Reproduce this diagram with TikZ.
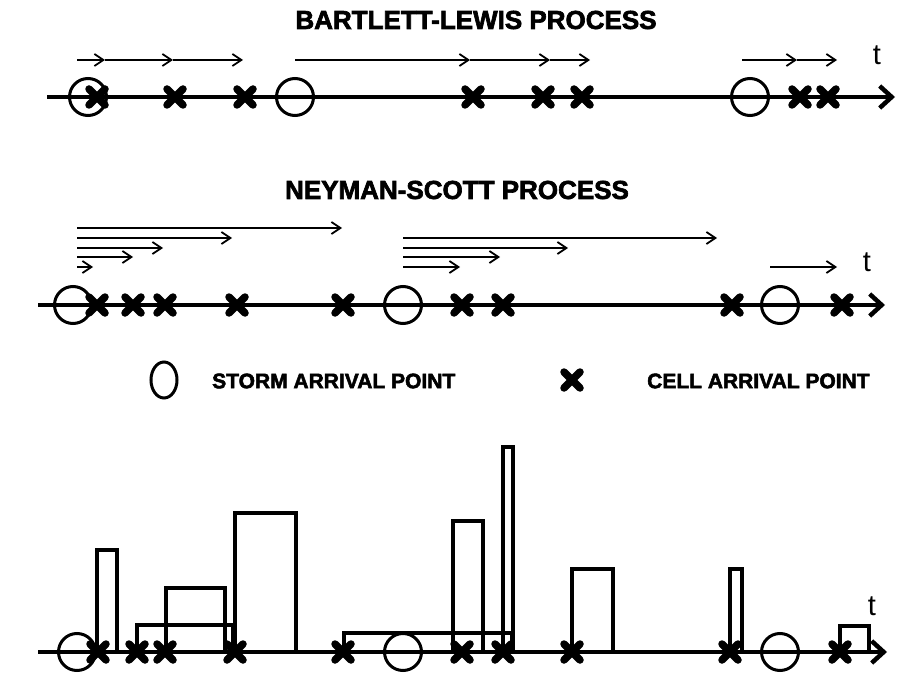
\documentclass[tikz,border=0pt]{standalone}
\usepackage{fontspec}
\setmainfont{Liberation Sans}
\newfontfamily\heavyfont{Liberation Sans}[BoldFeatures={FakeBold=2.5}]
\usetikzlibrary{arrows.meta,shapes.geometric}

\begin{document}
\begin{tikzpicture}[
    x=1pt, y=-1pt,
    title/.style={font=\heavyfont\fontsize{26}{26}\selectfont\bfseries, inner sep=0pt},
    legend/.style={font=\heavyfont\fontsize{21}{21}\selectfont\bfseries, anchor=west, inner sep=0pt},
    tlabel/.style={font=\fontsize{29}{29}\selectfont, inner sep=0pt},
    storm/.style={circle, draw, line width=3pt, minimum size=37pt, inner sep=0pt},
    axis/.style={line width=4.5pt, -{Straight Barb[length=12pt,width=22pt]}},
    arrow/.style={line width=1.8pt, -{Straight Barb[length=9pt,width=12pt]}},
    cellbox/.style={line width=3.3pt},
    cell/.pic={\draw[line width=7.5pt, line cap=round] (-8,-8) -- (8,8) (-8,8) -- (8,-8);}
  ]
  \useasboundingbox[fill=white] (0,0) rectangle (897,695);

  % Bartlett-Lewis
  \node[title] (bltitle) at (476,20) {BARTLETT-LEWIS PROCESS};
  \coordinate (blstart) at (47,97);
  \coordinate (blend) at (895,97);
  \draw[axis] (blstart) -- (blend);
  \node[tlabel] (blt) at (877,55) {t};
  \foreach \a/\b in {77/105,105/173,173/243,295/470,470/550,550/590,742/797,797/837}
    \draw[arrow] (\a,60) -- (\b,60);
  \foreach \x [count=\i] in {88,295,750}
    \node[storm] (bls\i) at (\x,97) {};
  \foreach \x in {97,175,245,473,543,582,800,828}
    \pic at (\x,97) {cell};

  % Neyman-Scott
  \node[title] (nstitle) at (457,190) {NEYMAN-SCOTT PROCESS};
  \coordinate (nsstart) at (38,305);
  \coordinate (nsend) at (885,305);
  \draw[axis] (nsstart) -- (nsend);
  \node[tlabel] (nst) at (867,262) {t};
  \foreach \y/\a/\b in {228/77/342,238/77/232,248/77/163,257/77/133,267/77/93,
                        238/403/717,248/403/568,257/403/500,267/403/460,267/770/837}
    \draw[arrow] (\a,\y) -- (\b,\y);
  \foreach \x [count=\i] in {73,403,780}
    \node[storm] (nss\i) at (\x,305) {};
  \foreach \x in {97,133,165,237,343,462,503,732,842}
    \pic at (\x,305) {cell};

  % legend
  \node[storm, ellipse, minimum width=26pt, minimum height=36pt] (keystorm) at (164,380) {};
  \node[legend] (keystormtext) at (212,381) {STORM ARRIVAL POINT};
  \pic at (572,380) {cell};
  \node[legend] (keycelltext) at (647,381) {CELL ARRIVAL POINT};

  % rainfall pulses
  \foreach \a/\b/\h in {97/117/550,137/233/625,166/225/588,235/296/513,344/512/633,
                        453/483/521,503/513/447,572/613/569,730/742/569,840/869/626}
    \draw[cellbox] (\a,652) rectangle (\b,\h);
  \coordinate (rfstart) at (38,652);
  \coordinate (rfend) at (887,652);
  \draw[axis] (rfstart) -- (rfend);
  \node[tlabel] (rft) at (872,606) {t};
  \foreach \x [count=\i] in {77,403,780}
    \node[storm] (rfs\i) at (\x,652) {};
  \foreach \x in {98,137,165,235,343,462,503,572,730,840}
    \pic at (\x,652) {cell};
\end{tikzpicture}
\end{document}
